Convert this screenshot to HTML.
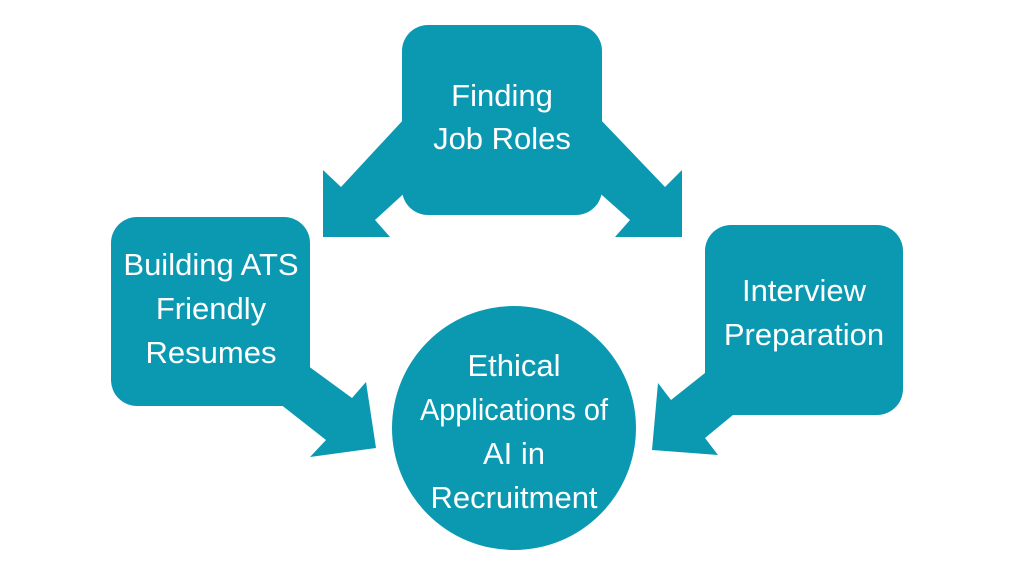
<!DOCTYPE html>
<html><head><style>
body{margin:0;width:1024px;height:576px;background:#fff;overflow:hidden}
text{font-family:"Liberation Sans",Arial,sans-serif;font-size:31px;fill:#fff;text-anchor:middle}
</style></head><body>
<svg width="1024" height="576" viewBox="0 0 1024 576">
<g fill="#0b99b2">
<polygon points="405,118 341,187 323,170 323,237 390,237 375,220 410,188"/>
<polygon points="599,118 665,187 682,170 682,237 615,237 630,220 594,188"/>
<rect x="402" y="25" width="200" height="190" rx="26"/>
<polygon points="300,360 352,398 366,382 376,448 310,457 326,440 275,400"/>
<rect x="111" y="217" width="199" height="189" rx="26"/>
<polygon points="715,365 671,400 658,383 652,450 718,455 705,438 745,405"/>
<rect x="705" y="225" width="198" height="190" rx="26"/>
<circle cx="514" cy="428" r="122"/>
</g>
<text x="502" y="106">Finding</text>
<text x="502" y="149">Job Roles</text>
<text x="211" y="275">Building ATS</text>
<text x="211" y="319">Friendly</text>
<text x="211" y="363">Resumes</text>
<text x="804" y="301">Interview</text>
<text x="804" y="345">Preparation</text>
<text x="514" y="376">Ethical</text>
<text x="514" y="420" textLength="188" lengthAdjust="spacingAndGlyphs">Applications of</text>
<text x="514" y="464">AI in</text>
<text x="514" y="508">Recruitment</text>
</svg>
</body></html>
